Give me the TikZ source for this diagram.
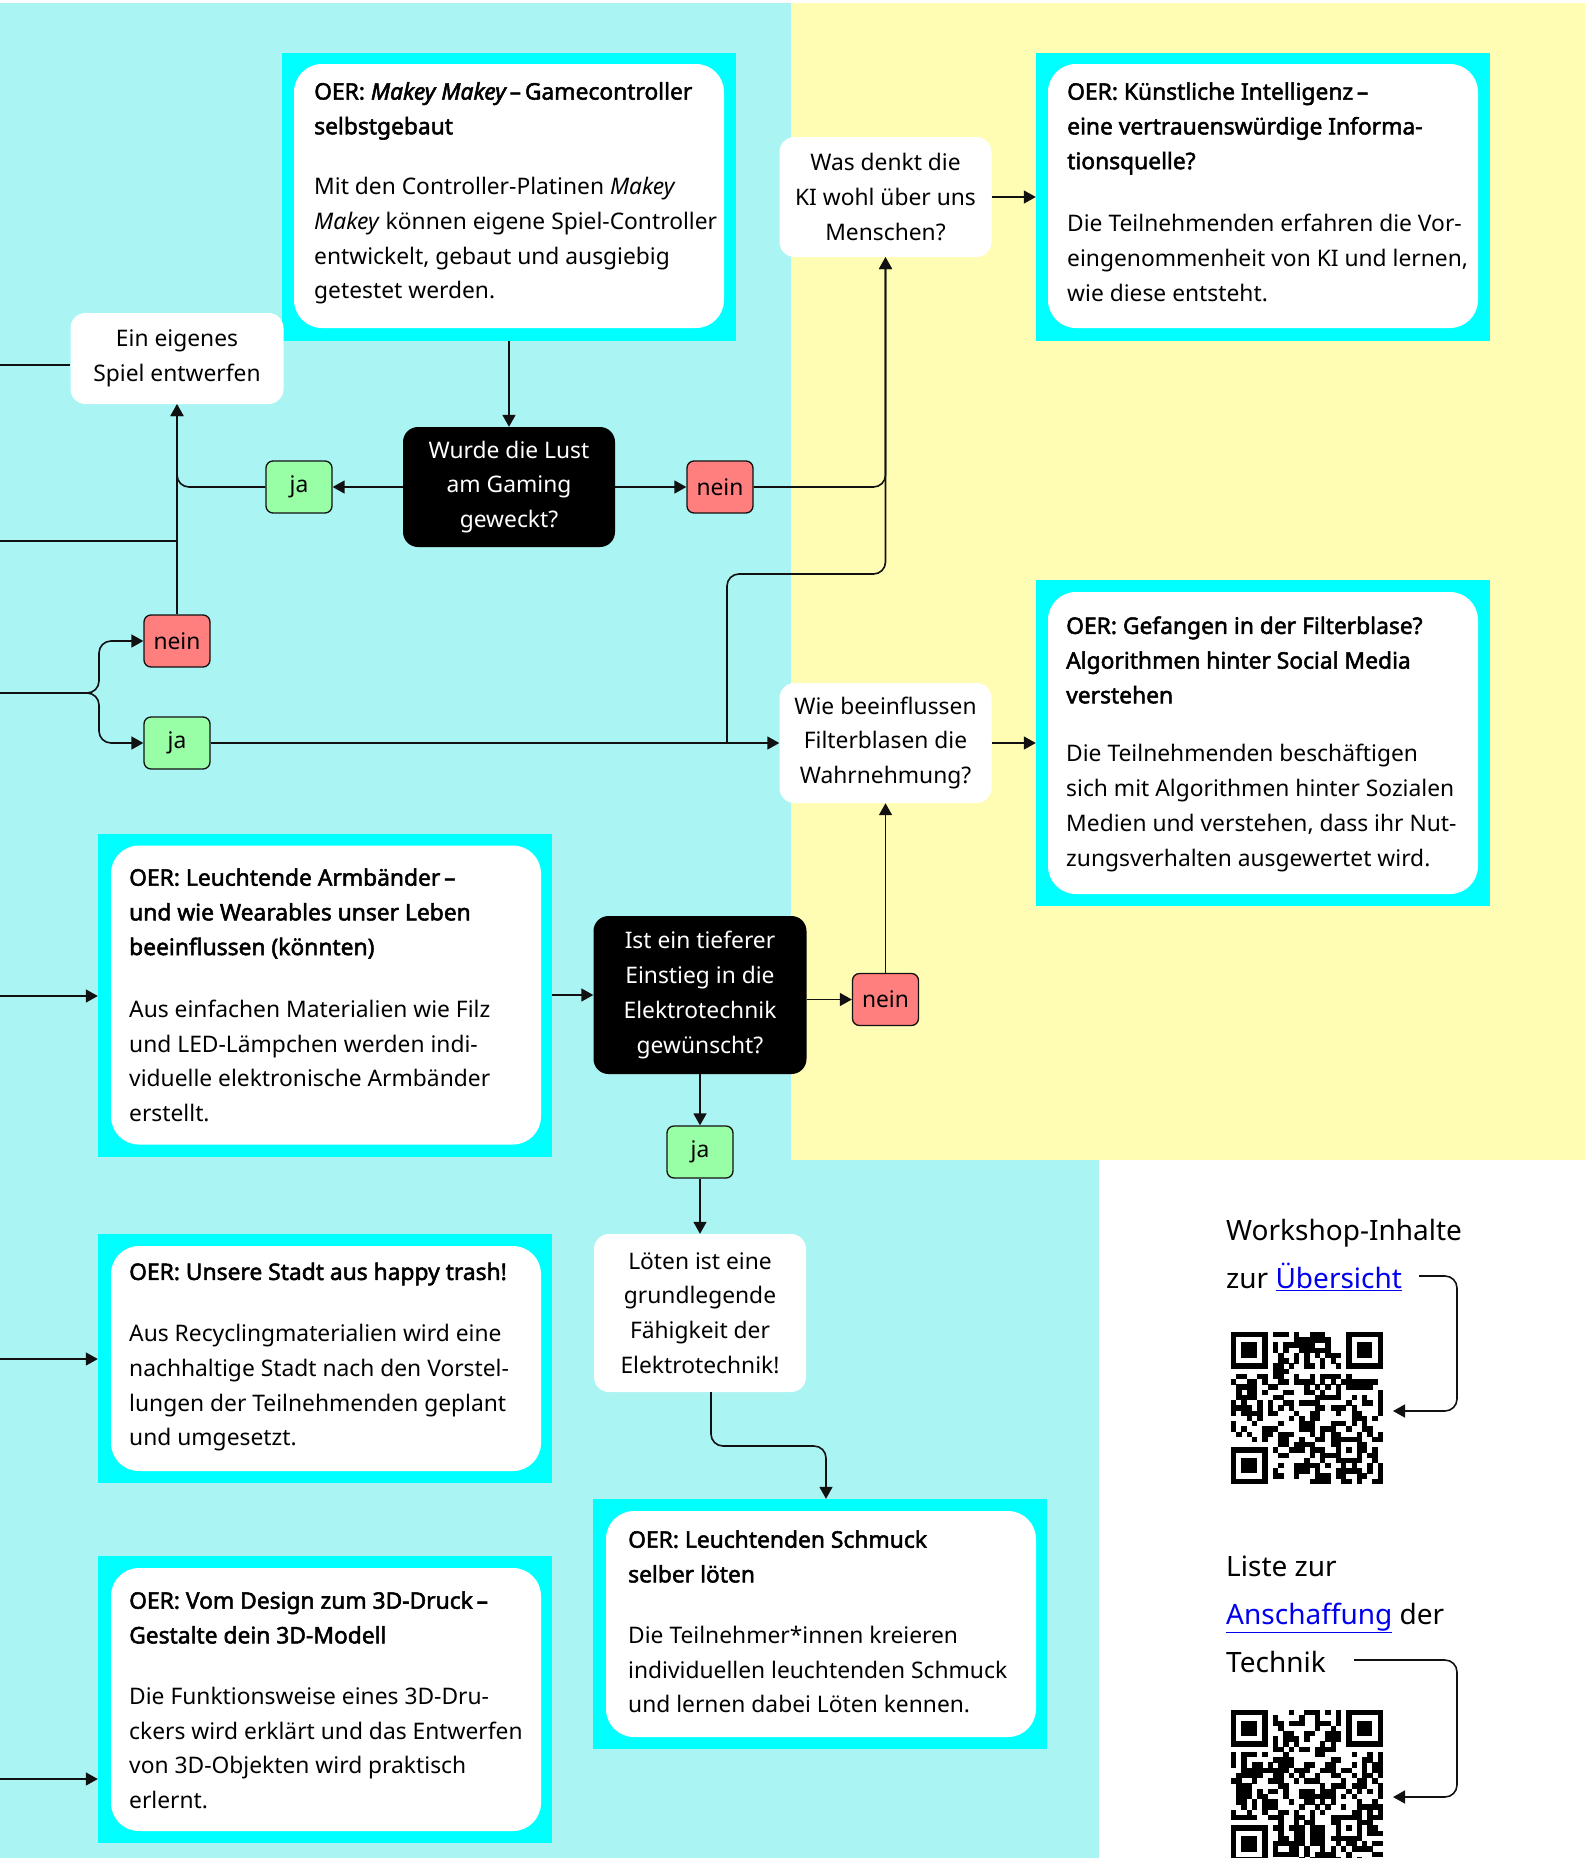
\documentclass[tikz,border=0pt]{standalone}
\usepackage{fontspec}
\setmainfont{Noto Sans}[AutoFakeBold=2.2]
\usetikzlibrary{arrows.meta}
\definecolor{bgcyan}{HTML}{AAF4F3}
\definecolor{bgyellow}{HTML}{FFFDB3}
\definecolor{boxcyan}{HTML}{00FFFF}
\definecolor{jagreen}{HTML}{99FFA6}
\definecolor{neinred}{HTML}{FF7F7F}
\definecolor{ink}{HTML}{111111}
\definecolor{linkblue}{HTML}{0000EE}
\newcommand\bfitxt[1]{{\itshape\addfontfeature{FakeBold=2.2}#1}}
\newcommand\qrpattern[3]{%
  \begin{scope}[shift={(#1,#2)}, x=5.24pt, y=-5.24pt]
    \pgfmathsetseed{#3}
    \foreach \i in {0,...,28}{\foreach \j in {0,...,28}{%
      \pgfmathtruncatemacro\zz{((\i<8)&&(\j<8))||((\i>20)&&(\j<8))||((\i<8)&&(\j>20))||((\i>19)&&(\i<25)&&(\j>19)&&(\j<25))}%
      \ifnum\zz=0
        \pgfmathtruncatemacro\rr{rnd<0.5}%
        \ifnum\rr=1 \fill[black] (\i,\j) rectangle ++(1.03,1.03);\fi
      \fi}}
    \foreach \a/\b in {0/0,22/0,0/22}{%
      \fill[black] (\a,\b) rectangle ++(7,7);
      \fill[white] (\a+1,\b+1) rectangle ++(5,5);
      \fill[black] (\a+2,\b+2) rectangle ++(3,3);}
    \fill[black] (20,20) rectangle ++(5,5);
    \fill[white] (21,21) rectangle ++(3,3);
    \fill[black] (22,22) rectangle ++(1,1);
  \end{scope}}
\tikzset{
  txt/.style={font=\fontsize{22.8}{34.7}\selectfont},
  outerbox/.style={fill=boxcyan, draw=none, inner sep=0pt, minimum width=454pt},
  innerbox/.style={fill=white, draw=none, rounded corners=28pt, inner sep=0pt, minimum width=430pt},
  ttl/.style={font=\fontsize{22.8}{34.7}\selectfont\bfseries, align=left, anchor=west, inner sep=0pt},
  bdy/.style={txt, align=left, anchor=west, inner sep=0pt},
  qbox/.style={txt, fill=white, rounded corners=15pt, align=center, inner sep=0pt, minimum width=212pt},
  dbox/.style={txt, fill=black, text=white, rounded corners=15pt, align=center, inner sep=0pt, minimum width=212pt},
  jabox/.style={txt, fill=jagreen, draw=ink, line width=1.3pt, rounded corners=7pt, inner sep=0pt, minimum width=66pt, minimum height=52pt},
  neinbox/.style={txt, fill=neinred, draw=ink, line width=1.3pt, rounded corners=7pt, inner sep=0pt, minimum width=66pt, minimum height=52pt},
  ln/.style={draw=ink, line width=1.6pt},
  arr/.style={draw=ink, line width=1.6pt, -{Triangle[length=12pt,width=13pt]}},
  side/.style={font=\fontsize{28}{48}\selectfont, align=left, anchor=west, inner sep=0pt},
  qrframe/.style={draw=none, inner sep=0pt, minimum width=152pt, minimum height=152pt}
}
\begin{document}
\begin{tikzpicture}[x=1pt, y=-1pt]
\useasboundingbox (0,0) rectangle (1585,1858);
% backgrounds
\fill[white] (0,0) rectangle (1585,1858);
\fill[bgcyan] (0,3) rectangle (791,1858);
\fill[bgcyan] (791,1160) rectangle (1099,1858);
\fill[bgyellow] (791,3) rectangle (1585,1160);

% OER: Makey Makey
\node[outerbox, minimum height=288pt] (mk) at (509,197) {};
\node[innerbox, minimum height=264pt] (mkin) at (509,196) {};
\node[ttl] (mkt) at (314,111) {OER: \bfitxt{Makey Makey}\,--\,Gamecontroller\\selbstgebaut};
\node[bdy] (mkb) at (314,241) {Mit den Controller-Platinen \textit{Makey}\\\textit{Makey} können eigene Spiel-Controller\\entwickelt, gebaut und ausgiebig\\getestet werden.};

% OER: KI
\node[outerbox, minimum height=288pt] (ki) at (1263,197) {};
\node[innerbox, minimum height=264pt] (kiin) at (1263,196) {};
\node[ttl] (kit) at (1067,128.5) {OER: Künstliche Intelligenz\,--\\eine vertrauenswürdige Informa-\\tionsquelle?};
\node[bdy] (kib) at (1067,258) {Die Teilnehmenden erfahren die Vor-\\eingenommenheit von KI und lernen,\\wie diese entsteht.};

% OER: Filterblase
\node[outerbox, minimum height=326pt] (fb) at (1263,743) {};
\node[innerbox, minimum height=302pt] (fbin) at (1263,743) {};
\node[ttl] (fbt) at (1066,660) {OER: Gefangen in der Filterblase?\\Algorithmen hinter Social Media\\verstehen};
\node[bdy] (fbb) at (1066,808) {Die Teilnehmenden beschäftigen\\sich mit Algorithmen hinter Sozialen\\Medien und verstehen, dass ihr Nut-\\zungsverhalten ausgewertet wird.};

% OER: Armbaender
\node[outerbox, minimum height=323pt] (arm) at (325,995) {};
\node[innerbox, minimum height=299pt] (armin) at (326,995) {};
\node[ttl] (armt) at (129,913.5) {OER: Leuchtende Armbänder\,--\\und wie Wearables unser Leben\\beeinflussen (könnten)};
\node[bdy] (armb) at (129,1061) {Aus einfachen Materialien wie Filz\\und LED-Lämpchen werden indi-\\viduelle elektronische Armbänder\\erstellt.};

% OER: happy trash
\node[outerbox, minimum height=249pt] (ht) at (325,1358.5) {};
\node[innerbox, minimum height=225pt] (htin) at (326,1358.5) {};
\node[ttl] (htt) at (129,1274) {OER: Unsere Stadt aus happy trash!};
\node[bdy] (htb) at (129,1388) {Aus Recyclingmaterialien wird eine\\nachhaltige Stadt nach den Vorstel-\\lungen der Teilnehmenden geplant\\und umgesetzt.};

% OER: 3D-Druck
\node[outerbox, minimum height=287pt] (dd) at (325,1699.5) {};
\node[innerbox, minimum height=263pt] (ddin) at (326,1699.5) {};
\node[ttl] (ddt) at (129,1617.5) {OER: Vom Design zum 3D-Druck\,--\\Gestalte dein 3D-Modell};
\node[bdy] (ddb) at (129,1748) {Die Funktionsweise eines 3D-Dru-\\ckers wird erklärt und das Entwerfen\\von 3D-Objekten wird praktisch\\erlernt.};

% OER: Schmuck
\node[outerbox, minimum height=250pt] (sch) at (820,1624) {};
\node[innerbox, minimum height=226pt] (schin) at (821,1624) {};
\node[ttl] (scht) at (628,1556.5) {OER: Leuchtenden Schmuck\\selber löten};
\node[bdy] (schb) at (628,1669.5) {Die Teilnehmer*innen kreieren\\individuellen leuchtenden Schmuck\\und lernen dabei Löten kennen.};

% questions and decisions
\node[qbox, minimum width=213pt, minimum height=91pt] (ein) at (177,358.5) {Ein eigenes\\Spiel entwerfen};
\node[qbox, minimum height=120pt] (was) at (885.5,197) {Was denkt die\\KI wohl über uns\\Menschen?};
\node[qbox, minimum height=120pt] (wie) at (885.5,743) {Wie beeinflussen\\Filterblasen die\\Wahrnehmung?};
\node[qbox, minimum height=158pt] (loet) at (700,1313) {Löten ist eine\\grundlegende\\Fähigkeit der\\Elektrotechnik!};
\node[dbox, minimum height=120pt] (d1) at (509,487) {Wurde die Lust\\am Gaming\\geweckt?};
\node[dbox, minimum width=213pt, minimum height=158pt] (d2) at (700,995) {Ist ein tieferer\\Einstieg in die\\Elektrotechnik\\gewünscht?};

% small answer boxes
\node[jabox] (ja1) at (299,487) {ja};
\node[neinbox] (nein1) at (720,487) {nein};
\node[neinbox] (neinL) at (177,641) {nein};
\node[jabox] (jaL) at (177,743) {ja};
\node[neinbox] (nein2) at (885.5,999.5) {nein};
\node[jabox] (ja2) at (700,1152) {ja};

% side panel
\node[side] (wsi) at (1226,1255) {Workshop-Inhalte\\zur \textcolor{linkblue}{\underline{Übersicht}}};
\node[side] (lst) at (1226,1614) {Liste zur\\\textcolor{linkblue}{\underline{Anschaffung}} der\\Technik};
\node[qrframe] (qr1) at (1307,1408) {};
\node[qrframe] (qr2) at (1307,1786) {};
\qrpattern{1231}{1332}{17}
\qrpattern{1231}{1710}{42}

% free ends
\coordinate (inB) at (0,365);
\coordinate (inA) at (0,541);
\coordinate (inC) at (0,693);
\coordinate (inD) at (0,996);
\coordinate (inE) at (0,1359);
\coordinate (inF) at (0,1779);
\coordinate (kb) at (727,743);
\coordinate (ua) at (1419,1276);
\coordinate (q1in) at (1393,1411);
\coordinate (tb) at (1354,1660);
\coordinate (q2in) at (1393,1797);

% connectors
\draw[arr] (mk.south) -- (d1.north);
\draw[arr] (d1.west) -- (ja1.east);
\draw[arr, rounded corners=12pt] (ja1.west) -| (ein.south);
\draw[arr] (d1.east) -- (nein1.west);
\draw[arr, rounded corners=12pt] (nein1.east) -| (was.south);
\draw[arr] (was.east) -- (ki.west);
\draw[ln] (inB) -- (inB -| ein.west);
\draw[ln] (inA) -- (inA -| ein.south);
\draw[arr] (neinL.north) -- (ein.south);
\draw[arr, rounded corners=12pt] (inC) -- (99,693) |- (neinL.west);
\draw[arr, rounded corners=12pt] (inC) -- (99,693) |- (jaL.west);
\draw[arr] (jaL.east) -- (wie.west);
\draw[arr, rounded corners=12pt] (kb) -- (727,574) -- (885.5,574) -- (was.south);
\draw[arr] (wie.east) -- (fb.west);
\draw[arr] (inD) -- (inD -| arm.west);
\draw[arr] (arm.east) -- (d2.west);
\draw[arr] (d2.east |- nein2.west) -- (nein2.west);
\draw[arr] (nein2.north) -- (wie.south);
\draw[arr] (d2.south) -- (ja2.north);
\draw[arr] (ja2.south) -- (loet.north);
\draw[arr, rounded corners=12pt] ([xshift=11pt]loet.south) |- (770,1446) -| ([xshift=6pt]sch.north);
\draw[arr] (inE) -- (inE -| ht.west);
\draw[arr] (inF) -- (inF -| dd.west);
\draw[arr, rounded corners=12pt] (ua) -- (1457,1276) |- (q1in);
\draw[arr, rounded corners=12pt] (tb) -- (1457,1660) |- (q2in);
\end{tikzpicture}
\end{document}
